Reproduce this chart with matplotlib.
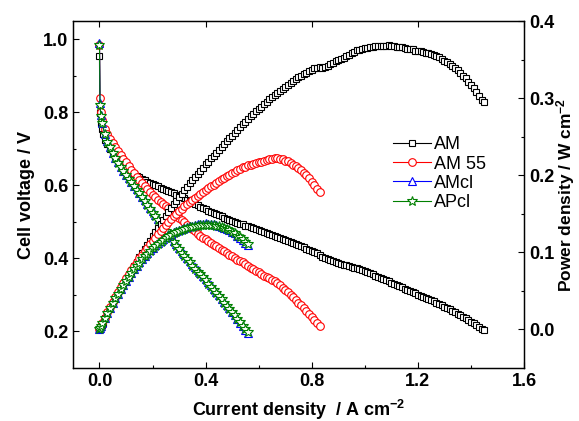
import matplotlib
matplotlib.use("Agg")
import matplotlib.pyplot as plt
import numpy as np

plt.rcParams["font.family"] = ["Liberation Sans", "DejaVu Sans"]
plt.rcParams["mathtext.fontset"] = "custom"
plt.rcParams["mathtext.rm"] = "Liberation Sans:bold"
plt.rcParams["mathtext.bf"] = "Liberation Sans:bold"
plt.rcParams["mathtext.default"] = "rm"

# polarisation data (current A cm-2, cell voltage V)
am_i = [0.000, 0.001, 0.004, 0.008, 0.012,
        0.02, 0.03, 0.04, 0.05, 0.06, 0.07, 0.08, 0.09,
        0.10, 0.11, 0.12, 0.13, 0.14, 0.15, 0.16, 0.17, 0.18, 0.19,
        0.20, 0.21, 0.22, 0.23, 0.24, 0.25, 0.26, 0.27, 0.28, 0.29,
        0.30, 0.31, 0.32, 0.33, 0.34, 0.35, 0.36, 0.37, 0.38, 0.39,
        0.40, 0.41, 0.42, 0.43, 0.44, 0.45, 0.46, 0.47, 0.48, 0.49,
        0.50, 0.51, 0.52, 0.53, 0.54, 0.55, 0.56, 0.57, 0.58, 0.59,
        0.60, 0.61, 0.62, 0.63, 0.64, 0.65, 0.66, 0.67, 0.68, 0.69,
        0.70, 0.71, 0.72, 0.73, 0.74, 0.75, 0.76, 0.77, 0.78, 0.79,
        0.80, 0.81, 0.82, 0.83, 0.84, 0.85, 0.86, 0.87, 0.88, 0.89,
        0.90, 0.91, 0.92, 0.93, 0.94, 0.95, 0.96, 0.97, 0.98, 0.99,
        1.00, 1.01, 1.02, 1.03, 1.04, 1.05, 1.06, 1.07, 1.08, 1.09,
        1.10, 1.11, 1.12, 1.13, 1.14, 1.15, 1.16, 1.17, 1.18, 1.19,
        1.20, 1.21, 1.22, 1.23, 1.24, 1.25, 1.26, 1.27, 1.28, 1.29,
        1.30, 1.31, 1.32, 1.33, 1.34, 1.35, 1.36, 1.37, 1.38, 1.39,
        1.40, 1.41, 1.42, 1.43, 1.44, 1.45]
am_v = [0.955, 0.797, 0.772, 0.754, 0.742,
        0.725, 0.712, 0.700, 0.690, 0.680, 0.671, 0.662, 0.654,
        0.647, 0.641, 0.635, 0.630, 0.626, 0.622, 0.618, 0.614, 0.610, 0.606,
        0.603, 0.600, 0.597, 0.594, 0.591, 0.588, 0.585, 0.582, 0.579, 0.575,
        0.572, 0.568, 0.565, 0.561, 0.557, 0.553, 0.550, 0.546, 0.542, 0.538,
        0.535, 0.531, 0.528, 0.524, 0.521, 0.518, 0.515, 0.512, 0.509, 0.506,
        0.503, 0.500, 0.498, 0.495, 0.493, 0.490, 0.488, 0.485, 0.482, 0.480,
        0.477, 0.474, 0.471, 0.469, 0.466, 0.463, 0.460, 0.458, 0.455, 0.452,
        0.450, 0.447, 0.444, 0.442, 0.439, 0.436, 0.433, 0.430, 0.427, 0.424,
        0.421, 0.418, 0.414, 0.410, 0.404, 0.401, 0.398, 0.396, 0.393, 0.391,
        0.388, 0.386, 0.383, 0.381, 0.379, 0.377, 0.375, 0.373, 0.370, 0.368,
        0.365, 0.362, 0.359, 0.356, 0.353, 0.350, 0.347, 0.344, 0.341, 0.338,
        0.334, 0.331, 0.327, 0.324, 0.321, 0.317, 0.314, 0.311, 0.308, 0.304,
        0.301, 0.298, 0.295, 0.292, 0.289, 0.286, 0.282, 0.279, 0.276, 0.272,
        0.268, 0.265, 0.261, 0.257, 0.253, 0.249, 0.245, 0.240, 0.236, 0.231,
        0.226, 0.222, 0.217, 0.212, 0.207, 0.203]

am55_i = [0.000, 0.002, 0.006, 0.01,
          0.02, 0.03, 0.04, 0.05, 0.06, 0.07, 0.08, 0.09,
          0.10, 0.11, 0.12, 0.13, 0.14, 0.15, 0.16, 0.17, 0.18, 0.19,
          0.20, 0.21, 0.22, 0.23, 0.24, 0.25, 0.26, 0.27, 0.28, 0.29,
          0.30, 0.31, 0.32, 0.33, 0.34, 0.35, 0.36, 0.37, 0.38, 0.39,
          0.40, 0.41, 0.42, 0.43, 0.44, 0.45, 0.46, 0.47, 0.48, 0.49,
          0.50, 0.51, 0.52, 0.53, 0.54, 0.55, 0.56, 0.57, 0.58, 0.59,
          0.60, 0.61, 0.62, 0.63, 0.64, 0.65, 0.66, 0.67, 0.68, 0.69,
          0.70, 0.71, 0.72, 0.73, 0.74, 0.75, 0.76, 0.77, 0.78, 0.79,
          0.80, 0.81, 0.82, 0.83]
am55_v = [0.985, 0.838, 0.800, 0.780,
          0.755, 0.741, 0.728, 0.716, 0.705, 0.694, 0.683, 0.673,
          0.663, 0.653, 0.643, 0.633, 0.624, 0.615, 0.606, 0.597, 0.589, 0.581,
          0.574, 0.567, 0.561, 0.555, 0.550, 0.544, 0.538, 0.531, 0.525, 0.518,
          0.512, 0.505, 0.499, 0.492, 0.486, 0.480, 0.474, 0.468, 0.462, 0.457,
          0.452, 0.447, 0.442, 0.437, 0.433, 0.428, 0.424, 0.419, 0.415, 0.410,
          0.406, 0.401, 0.397, 0.393, 0.389, 0.384, 0.380, 0.375, 0.371, 0.366,
          0.362, 0.357, 0.353, 0.349, 0.345, 0.341, 0.337, 0.332, 0.326, 0.320,
          0.313, 0.307, 0.300, 0.293, 0.286, 0.279, 0.272, 0.264, 0.256, 0.248,
          0.239, 0.231, 0.222, 0.214]

cl_i = [0.000, 0.002, 0.005,
        0.01, 0.02, 0.03, 0.04, 0.05, 0.06, 0.07, 0.08, 0.09,
        0.10, 0.11, 0.12, 0.13, 0.14, 0.15, 0.16, 0.17, 0.18, 0.19,
        0.20, 0.21, 0.22, 0.23, 0.24, 0.25, 0.26, 0.27, 0.28, 0.29,
        0.30, 0.31, 0.32, 0.33, 0.34, 0.35, 0.36, 0.37, 0.38, 0.39,
        0.40, 0.41, 0.42, 0.43, 0.44, 0.45, 0.46, 0.47, 0.48, 0.49,
        0.50, 0.51, 0.52, 0.53, 0.54, 0.55, 0.56]
amcl_v = [0.990, 0.825, 0.792,
          0.771, 0.741, 0.721, 0.705, 0.690, 0.676, 0.663, 0.651, 0.640,
          0.629, 0.619, 0.609, 0.599, 0.589, 0.579, 0.569, 0.559, 0.549, 0.539,
          0.529, 0.519, 0.509, 0.499, 0.489, 0.479, 0.469, 0.459, 0.449, 0.439,
          0.429, 0.420, 0.411, 0.402, 0.393, 0.384, 0.376, 0.368, 0.360, 0.352,
          0.344, 0.335, 0.326, 0.317, 0.308, 0.299, 0.290, 0.281, 0.272, 0.263,
          0.254, 0.244, 0.234, 0.224, 0.214, 0.204, 0.195]
apcl_v = [0.985, 0.820, 0.790,
          0.770, 0.740, 0.720, 0.705, 0.690, 0.675, 0.662, 0.650, 0.639,
          0.628, 0.618, 0.608, 0.598, 0.588, 0.578, 0.567, 0.557, 0.546, 0.536,
          0.525, 0.515, 0.505, 0.495, 0.485, 0.475, 0.465, 0.455, 0.445, 0.435,
          0.425, 0.416, 0.407, 0.398, 0.389, 0.380, 0.372, 0.364, 0.356, 0.348,
          0.340, 0.331, 0.323, 0.314, 0.306, 0.297, 0.288, 0.279, 0.271, 0.262,
          0.253, 0.244, 0.234, 0.225, 0.216, 0.207, 0.198]

series = [
    ("AM", am_i, am_v, "black", "s", 5),
    ("AM 55", am55_i, am55_v, "red", "o", 5.5),
    ("AMcl", cl_i, amcl_v, "blue", "^", 6),
    ("APcl", cl_i, apcl_v, "green", "*", 7),
]

fig = plt.figure(figsize=(5.79, 4.21), dpi=100)
ax = fig.add_axes([0.126, 0.126, 0.779, 0.824])
ax2 = ax.twinx()

handles = []
for name, cur, volt, col, mk, ms in series:
    cur = np.array(cur)
    volt = np.array(volt)
    style = dict(color=col, lw=0.8, marker=mk, ms=ms, mfc="white", mec=col, mew=0.8)
    h, = ax.plot(cur, volt, label=name, **style)
    # power density = current x voltage
    ax2.plot(cur, cur * volt, **style)
    handles.append(h)

ax.set_xlim(-0.1, 1.6)
ax.set_ylim(0.1, 1.05)
ax2.set_ylim(-0.05, 0.4)
ax.set_xticks([0.0, 0.4, 0.8, 1.2, 1.6])
ax.set_xticks(np.arange(-0.0, 1.61, 0.2), minor=True)
ax.set_yticks([0.2, 0.4, 0.6, 0.8, 1.0])
ax.set_yticks([0.3, 0.5, 0.7, 0.9], minor=True)
ax2.set_yticks([0.0, 0.1, 0.2, 0.3, 0.4])
ax2.set_yticks([0.05, 0.15, 0.25, 0.35], minor=True)

for a in (ax, ax2):
    a.tick_params(which="both", direction="in", labelsize=13, width=0.8)
    a.tick_params(which="major", length=4)
    a.tick_params(which="minor", length=2.5)
    for lab in a.get_xticklabels() + a.get_yticklabels():
        lab.set_fontweight("bold")
    for s in a.spines.values():
        s.set_linewidth(0.9)
ax.tick_params(top=True, right=False)
ax.set_xticklabels(["0.0", "0.4", "0.8", "1.2", "1.6"], fontweight="bold")

ax.set_xlabel(r"Current density  / A cm$^{-2}$", fontsize=13, fontweight="bold", labelpad=6)
ax.set_ylabel("Cell voltage / V", fontsize=13, fontweight="bold", labelpad=6)
ax2.set_ylabel(r"Power density / W cm$^{-2}$", fontsize=12.5, fontweight="bold", labelpad=0)

ax2.legend(handles=handles, loc="center left", bbox_to_anchor=(0.709, 0.56), frameon=False,
           fontsize=13, handlelength=2.1, handletextpad=0.2, labelspacing=0.12,
           borderpad=0, borderaxespad=0)

fig.savefig("out.png", dpi=100)
